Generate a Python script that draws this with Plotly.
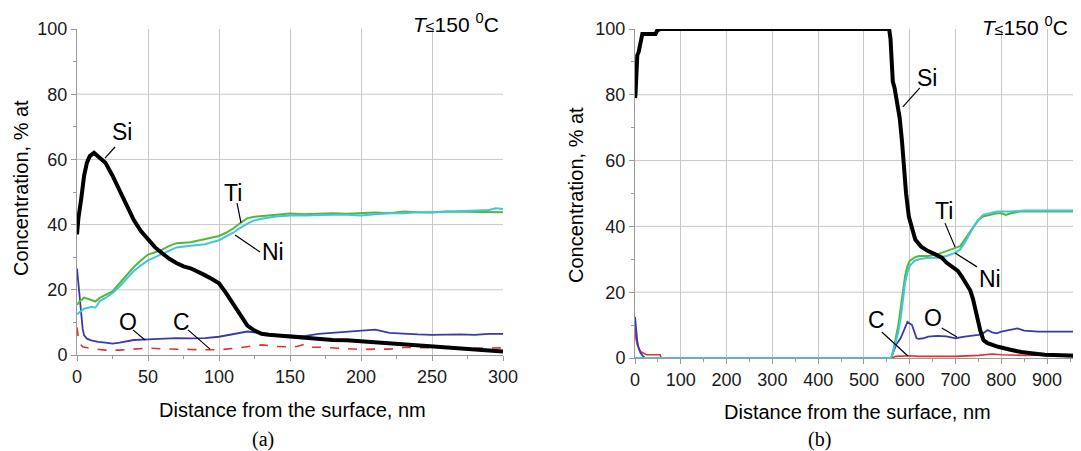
import plotly.graph_objects as go

# ---------------- Panel (a) data ----------------
a_si_x = [0, 1, 3, 5, 7, 9, 12, 15, 20, 25, 30, 35, 40, 45, 50, 55, 60, 65, 70, 75, 80, 85, 90, 95, 100, 105, 110, 115, 120, 125, 130, 135, 140, 150, 160, 170, 180, 190, 200, 210, 220, 230, 240, 250, 260, 270, 280, 290, 300]
a_si_y = [37, 42, 48, 55, 59, 61, 62, 61, 59, 55, 50.6, 46, 41.4, 38, 35.3, 33, 31.2, 29.5, 28.2, 27.2, 26.6, 25.7, 24.5, 23.3, 22, 19, 15.5, 12, 9, 7.5, 6.5, 6.2, 6, 5.7, 5.2, 4.8, 4.6, 4.5, 4.2, 3.9, 3.6, 3.3, 3.0, 2.7, 2.4, 2.1, 1.8, 1.5, 1.1]

a_ti_x = [0, 2, 5, 8, 10, 13, 16, 20, 25, 30, 35, 40, 45, 50, 55, 60, 65, 70, 80, 90, 100, 105, 110, 115, 120, 125, 130, 140, 150, 160, 170, 180, 190, 200, 210, 220, 230, 240, 250, 260, 270, 280, 290, 300]
a_ti_y = [15.4, 16.5, 17.6, 17.2, 17, 16.4, 17.5, 18.3, 19.5, 22, 24.5, 27, 29, 30.8, 31.5, 32.3, 33.5, 34.3, 34.6, 35.5, 36.5, 37.5, 38.8, 40.5, 42, 42.4, 42.6, 43, 43.4, 43.2, 43.3, 43.5, 43.3, 43.5, 43.7, 43.5, 44, 43.8, 43.7, 44, 44, 43.8, 44, 43.8]

a_ni_x = [0, 3, 5, 8, 10, 13, 16, 20, 25, 30, 35, 40, 45, 50, 55, 60, 65, 70, 80, 90, 100, 105, 110, 115, 120, 125, 130, 140, 150, 160, 170, 180, 190, 200, 210, 220, 230, 240, 250, 260, 270, 280, 290, 295, 300]
a_ni_y = [12.5, 13.5, 14.2, 14.5, 14.8, 14.5, 16.5, 17.5, 19, 21, 23.5, 25.8, 27.5, 29, 30, 31, 32, 33, 33.5, 34, 35.2, 36.3, 37.5, 39, 40.3, 41.3, 41.8, 42.5, 42.8, 42.8, 43, 43, 43, 42.8, 43.2, 43.5, 43.5, 43.8, 43.8, 44, 44, 44.2, 44.5, 45, 44.8]

a_o_x = [0, 1, 2, 3, 4, 5, 7, 10, 15, 20, 25, 30, 35, 40, 50, 60, 70, 80, 90, 100, 110, 120, 130, 140, 150, 160, 170, 180, 190, 200, 210, 220, 230, 240, 250, 260, 270, 280, 290, 300]
a_o_y = [26.5, 22, 17, 12, 8, 6, 5, 4.5, 4, 3.8, 3.5, 3.8, 4.2, 4.6, 4.8, 5.1, 5.2, 5.1, 5.2, 5.6, 6.5, 7.2, 6.7, 6.2, 6, 5.8, 6.5, 6.8, 7, 7.5, 7.8, 6.8, 6.5, 6.3, 6.2, 6.3, 6.3, 6.2, 6.5, 6.5]

a_c_x = [0, 1, 2, 4, 10, 20, 30, 40, 50, 60, 70, 80, 90, 100, 110, 120, 130, 135, 140, 150, 155, 160, 165, 170, 180, 190, 200, 210, 220, 230, 240, 250, 260, 270, 280, 290, 300]
a_c_y = [8.5, 5, 3.5, 2.5, 2, 1.5, 1.5, 1.8, 2.1, 1.9, 1.7, 1.7, 1.6, 1.6, 2, 2.5, 3.1, 2.9, 2.6, 2.5, 2.6, 3.3, 2.4, 2.4, 2.2, 1.9, 1.7, 1.8, 1.8, 2.3, 2.3, 2.3, 2.2, 2, 2, 2.2, 2.2]

# ---------------- Panel (b) data ----------------
b_si_x = [0, 1, 3, 5, 8, 12, 16, 30, 45, 48, 55, 100, 200, 300, 400, 500, 555, 558, 561, 563, 567, 572, 578, 583, 588, 592, 598, 605, 612, 625, 640, 656, 670, 680, 692, 705, 714, 725, 732, 738, 743, 748, 754, 761, 770, 793, 820, 844, 870, 895, 930, 975]
b_si_y = [79, 80, 86, 92, 93, 96, 98.5, 98.5, 98.5, 99.5, 100, 100, 100, 100, 100, 100, 100, 97, 90, 84, 82, 78, 73, 66, 57, 50, 43, 39, 36, 33.8, 32.5, 31.5, 30.5, 29, 27.7, 26.5, 24.7, 22.5, 20.6, 18, 15.5, 12, 8.4, 5.4, 4.5, 3.4, 2.5, 1.8, 1.4, 1.0, 0.8, 0.6]

b_ti_x = [0, 100, 200, 300, 400, 500, 560, 565, 570, 575, 580, 585, 590, 595, 600, 610, 620, 640, 660, 680, 700, 710, 720, 730, 740, 750, 760, 775, 790, 800, 810, 820, 840, 860, 900, 975]
b_ti_y = [0, 0, 0, 0, 0, 0, 0, 3, 6, 10, 15, 20, 25, 28, 29.5, 30.5, 31, 31, 31.5, 32.5, 33.5, 34, 36, 38, 40, 42, 43, 43.5, 44, 44, 43.5, 44, 44.5, 44.5, 44.5, 44.5]

b_ni_x = [0, 100, 200, 300, 400, 500, 558, 562, 570, 575, 580, 585, 590, 595, 600, 610, 620, 640, 660, 680, 700, 710, 720, 730, 740, 750, 760, 775, 790, 800, 820, 850, 900, 975]
b_ni_y = [0, 0, 0, 0, 0, 0, 0, 1, 5, 8, 12, 18, 23, 26, 28, 29.5, 30, 30.5, 30.5, 31, 32, 33, 35, 37.5, 40, 42, 43.5, 44, 44.5, 44.5, 44.5, 44.8, 44.8, 44.8]

b_o_x = [0, 2, 5, 8, 12, 18, 22, 100, 300, 560, 562, 570, 580, 590, 595, 600, 605, 610, 615, 620, 630, 640, 660, 680, 690, 700, 720, 740, 750, 760, 770, 780, 790, 800, 820, 835, 850, 880, 920, 975]
b_o_y = [12.5, 9, 5, 3, 1.5, 0.5, 0, 0, 0, 0, 1, 4, 6, 9, 11, 10.5, 10, 8, 6, 5.8, 6, 6.5, 6.7, 6.6, 6.2, 6, 6.5, 6.8, 7, 7.5, 8.5, 7.8, 7.5, 8, 8.5, 9, 8.3, 8, 8, 8]

b_c_x = [0, 2, 5, 8, 12, 18, 25, 40, 55, 57, 100, 300, 560, 570, 600, 620, 700, 750, 780, 800, 850, 900, 975]
b_c_y = [9, 6, 4, 3, 2, 1.5, 1, 1, 1, 0, 0, 0, 0, 0.5, 0.7, 0.5, 0.5, 0.8, 1.2, 1, 0.8, 1, 1.1]

a_xticks = [0, 50, 100, 150, 200, 250, 300]
b_xticks = [0, 100, 200, 300, 400, 500, 600, 700, 800, 900]
yticks = [0, 20, 40, 60, 80, 100]

C_SI = "#000000"
C_TI = "#52b83a"
C_NI = "#44c6da"
C_O = "#3a3aa8"
C_C = "#e03030"
FONT = "Liberation Sans, Arial, sans-serif"

# page has an 8px body margin: figure is sized so it fills the 1081x451 window
OFF = 8
W, H = 1081 - OFF, 451 - OFF

def px(x):
    return (x - OFF) / W

def py(y):
    return 1 - (y - OFF) / H

fig = go.Figure()

def add_panel(xa, ya, c, o, ti, ni, si, cdash):
    fig.add_trace(go.Scatter(x=c[0], y=c[1], mode="lines", line=dict(color=C_C, width=1.6, dash=cdash), xaxis=xa, yaxis=ya, showlegend=False))
    fig.add_trace(go.Scatter(x=o[0], y=o[1], mode="lines", line=dict(color=C_O, width=1.8), xaxis=xa, yaxis=ya, showlegend=False))
    fig.add_trace(go.Scatter(x=ti[0], y=ti[1], mode="lines", line=dict(color=C_TI, width=2), xaxis=xa, yaxis=ya, showlegend=False))
    fig.add_trace(go.Scatter(x=ni[0], y=ni[1], mode="lines", line=dict(color=C_NI, width=2), xaxis=xa, yaxis=ya, showlegend=False))
    fig.add_trace(go.Scatter(x=si[0], y=si[1], mode="lines", line=dict(color=C_SI, width=4), xaxis=xa, yaxis=ya, showlegend=False))

add_panel("x", "y", (a_c_x, a_c_y), (a_o_x, a_o_y), (a_ti_x, a_ti_y), (a_ni_x, a_ni_y), (a_si_x, a_si_y), "dash")
add_panel("x2", "y2", (b_c_x, b_c_y), (b_o_x, b_o_y), (b_ti_x, b_ti_y), (b_ni_x, b_ni_y), (b_si_x, b_si_y), "solid")

def axcommon(minor_dtick, grid=True):
    return dict(showline=True, linecolor="#9a9a9a", linewidth=1, showgrid=grid, gridcolor="#c8c8c8", gridwidth=1,
                zeroline=False, ticks="outside", ticklen=5, tickcolor="#9a9a9a", automargin=False,
                tickfont=dict(family=FONT, size=18, color="#1a1a1a"),
                minor=dict(ticks="outside", ticklen=3, tickcolor="#9a9a9a", showgrid=False, dtick=minor_dtick))

fig.update_layout(
    width=W, height=H,
    margin=dict(l=0, r=0, t=0, b=0, autoexpand=False),
    paper_bgcolor="white", plot_bgcolor="white",
    xaxis=dict(domain=[px(77), px(503)], range=[0, 300], tickvals=a_xticks, anchor="y", **axcommon(25)),
    yaxis=dict(domain=[py(355), py(29)], range=[0, 100], tickvals=yticks, anchor="x", **axcommon(10, False)),
    xaxis2=dict(domain=[px(635), 1.0], range=[0, 974], tickvals=b_xticks, anchor="y2", **axcommon(50)),
    yaxis2=dict(domain=[py(358), py(29)], range=[0, 100], tickvals=yticks, anchor="x2", **axcommon(10, False)),
)

shapes = []
for xr, yr in (("x domain", "y"), ("x2 domain", "y2")):
    for g in yticks[1:-1]:
        shapes.append(dict(type="line", xref=xr, yref=yr, x0=0, x1=1, y0=g, y1=g,
                           line=dict(color="#c8c8c8", width=1), layer="below"))

# leader lines (data coords)
leaders_a = [((26.8, 63.8), (19.7, 60.4)), ((112.7, 46.6), (115.5, 40.5)), ((128.9, 31.6), (111.3, 36.8)),
             ((39.4, 7.7), (47.9, 4.6)), ((78.2, 7.7), (93.7, 1.8))]
leaders_b = [((622, 82.1), (585, 76.3)), ((677, 41.0), (699, 33.7)), ((747, 27.7), (699, 31.9)),
             ((539, 7.9), (596, 0.6)), ((670, 9.1), (703, 6.4))]
for (p0, p1) in leaders_a:
    shapes.append(dict(type="line", xref="x", yref="y", x0=p0[0], y0=p0[1], x1=p1[0], y1=p1[1], line=dict(color="black", width=1.2)))
for (p0, p1) in leaders_b:
    shapes.append(dict(type="line", xref="x2", yref="y2", x0=p0[0], y0=p0[1], x1=p1[0], y1=p1[1], line=dict(color="black", width=1.2)))
fig.update_layout(shapes=shapes)

ann = []
lab_font = dict(family=FONT, size=23, color="black")
labels_a = [("Si", 31.7, 68.4), ("Ti", 109.9, 49.7), ("Ni", 138, 31.6), ("O", 35.9, 10.1), ("C", 73.9, 10.1)]
labels_b = [("Si", 638, 85.1), ("Ti", 675, 44.7), ("Ni", 775, 24.0), ("C", 528, 11.6), ("O", 651, 12.2)]
for t, x, y in labels_a:
    ann.append(dict(text=t, x=x, y=y, xref="x", yref="y", showarrow=False, font=lab_font,
                    xanchor="center", yanchor="middle"))
for t, x, y in labels_b:
    ann.append(dict(text=t, x=x, y=y, xref="x2", yref="y2", showarrow=False, font=lab_font,
                    xanchor="center", yanchor="middle"))

def paper_ann(text, x, y, font, angle=0):
    return dict(text=text, x=px(x), y=py(y), xref="paper", yref="paper", showarrow=False,
                xanchor="center", yanchor="middle", textangle=angle, font=font)

temp = "<i>T</i><span style='font-size:16px'>≤</span>150 <sup>0</sup>C"
temp_font = dict(family=FONT, size=21, color="black")
ann.append(paper_ann(temp, 456, 23, temp_font))
ann.append(paper_ann(temp, 1025, 26, temp_font))

title_font = dict(family=FONT, size=20, color="black")
ann.append(paper_ann("Distance from the surface, nm", 292, 410, title_font))
ann.append(paper_ann("Distance from the surface, nm", 857, 412, title_font))
ann.append(paper_ann("Concentration, % at", 21, 188, title_font, -90))
ann.append(paper_ann("Concentration, % at", 576, 195, title_font, -90))

cap_font = dict(family="Liberation Serif, Times New Roman, serif", size=20, color="black")
ann.append(paper_ann("(a)", 263, 439, cap_font))
ann.append(paper_ann("(b)", 819, 439, cap_font))

fig.update_layout(annotations=ann)
fig.write_html("out.html")
